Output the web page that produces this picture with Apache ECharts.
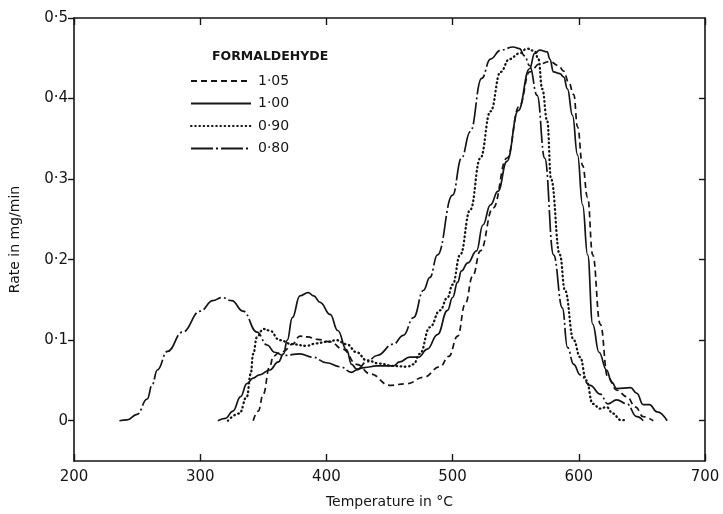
<!DOCTYPE html>
<html>
<head>
<meta charset="utf-8">
<script src="https://cdn.jsdelivr.net/npm/echarts@6/dist/echarts.min.js"></script>
<style>html,body{margin:0;padding:0;background:#fff}#c{width:723px;height:514px}</style>
</head>
<body>
<div id="c"></div>
<script>
// ---- data (temperature in °C, rate in mg/min) ----
var seriesNames = ['1·05', '1·00', '0·90', '0·80'];
var xTicks = [200, 300, 400, 500, 600, 700];
var yTicks = [0, 0.1, 0.2, 0.3, 0.4, 0.5];
var yTickLabels = ['0', '0·1', '0·2', '0·3', '0·4', '0·5'];

var t105 = [342, 346, 350, 355, 358, 362, 366, 373, 379, 385, 393, 403, 413, 424, 435, 450, 464, 477, 490, 497, 504, 510, 516, 522, 532, 543, 553, 561, 569, 577, 584, 588, 592, 596, 599, 603, 607, 611, 617, 623, 630, 638, 645, 651, 659];
var r105 = [0, 0.012, 0.033, 0.067, 0.08, 0.084, 0.086, 0.095, 0.105, 0.104, 0.101, 0.098, 0.089, 0.07, 0.058, 0.044, 0.046, 0.054, 0.067, 0.08, 0.105, 0.145, 0.18, 0.211, 0.264, 0.326, 0.391, 0.433, 0.443, 0.446, 0.441, 0.434, 0.42, 0.405, 0.365, 0.317, 0.277, 0.206, 0.12, 0.054, 0.038, 0.03, 0.017, 0.005, 0];

var t100 = [314, 320, 326, 332, 337, 342, 347, 355, 362, 366, 369, 373, 379, 385.5, 390, 395, 403, 409, 416, 420, 424, 430, 440, 453, 458, 466, 473, 480, 488, 496, 500, 504, 507, 512, 519, 524, 530, 536, 543, 552, 561, 565, 569, 575, 577, 580, 585, 588, 591, 595, 599, 603, 607, 611, 616, 622, 626, 630, 641, 646, 651, 656, 662, 670];
var r100 = [0, 0.003, 0.012, 0.03, 0.046, 0.053, 0.057, 0.063, 0.073, 0.083, 0.1, 0.128, 0.155, 0.159, 0.155, 0.147, 0.132, 0.112, 0.088, 0.07, 0.064, 0.066, 0.068, 0.068, 0.073, 0.079, 0.079, 0.089, 0.107, 0.137, 0.153, 0.172, 0.186, 0.196, 0.211, 0.243, 0.268, 0.285, 0.322, 0.385, 0.437, 0.456, 0.46, 0.458, 0.449, 0.433, 0.431, 0.427, 0.412, 0.379, 0.33, 0.268, 0.206, 0.12, 0.085, 0.063, 0.048, 0.04, 0.041, 0.034, 0.02, 0.02, 0.011, 0];

var t090 = [322, 331, 337, 340, 342, 345, 350, 355, 363, 373, 384, 392, 400, 408, 416, 424, 432, 442, 453, 464, 469, 474, 482, 490, 496, 500, 506, 514, 522, 530, 538, 545, 553, 559, 565, 568, 571, 575, 578, 585, 589, 596, 601, 606, 611, 617, 622, 627, 633, 638];
var r090 = [0, 0.009, 0.03, 0.058, 0.083, 0.104, 0.114, 0.112, 0.1, 0.095, 0.093, 0.096, 0.098, 0.1, 0.095, 0.085, 0.075, 0.071, 0.068, 0.067, 0.07, 0.083, 0.116, 0.137, 0.153, 0.169, 0.206, 0.262, 0.326, 0.384, 0.433, 0.449, 0.456, 0.462, 0.459, 0.449, 0.412, 0.372, 0.3, 0.206, 0.162, 0.1, 0.079, 0.05, 0.021, 0.015, 0.017, 0.009, 0.001, 0];

var t080 = [236, 242, 250, 258, 262, 266, 274, 286, 300, 310, 317, 325, 334, 345, 353, 359, 366, 379, 389, 400, 411, 420, 424, 432, 440, 453, 461, 469, 477, 482, 488, 500, 507, 514, 523, 530, 538, 548, 553, 557, 561, 567, 573, 580, 587, 591, 596, 601, 609, 617, 623, 630, 638, 646, 651];
var r080 = [0, 0.001, 0.008, 0.027, 0.045, 0.063, 0.086, 0.11, 0.136, 0.149, 0.153, 0.149, 0.136, 0.11, 0.094, 0.085, 0.081, 0.083, 0.079, 0.072, 0.067, 0.06, 0.063, 0.073, 0.081, 0.095, 0.106, 0.128, 0.162, 0.178, 0.206, 0.28, 0.326, 0.359, 0.425, 0.449, 0.46, 0.464, 0.462, 0.453, 0.441, 0.404, 0.326, 0.206, 0.14, 0.091, 0.07, 0.057, 0.044, 0.033, 0.021, 0.026, 0.021, 0.005, 0];

function pairs(t, r) { return t.map(function (v, i) { return [v, r[i]]; }); }

var FONT = 'DejaVu Sans';
var INK = '#151515';
var dashStyles = [[6, 4], 'solid', [0.6, 3.6], [22, 3, 2, 3]];
var widths = [1.7, 1.7, 2.3, 1.7];
var allData = [pairs(t105, r105), pairs(t100, r100), pairs(t090, r090), pairs(t080, r080)];

var chart = echarts.init(document.getElementById('c'), null, { renderer: 'canvas' });
chart.setOption({
  backgroundColor: '#fff',
  animation: false,
  title: {
    text: 'FORMALDEHYDE', left: 207, top: 45,
    textStyle: { fontFamily: FONT, fontSize: 12.5, fontWeight: 'bold', color: INK }
  },
  legend: {
    data: seriesNames, orient: 'vertical', left: 185, top: 69,
    itemWidth: 60, itemHeight: 10, itemGap: 8.5,
    itemStyle: { opacity: 0 },
    textStyle: { fontFamily: FONT, fontSize: 14, color: INK, padding: [0, 0, 0, 2] }
  },
  grid: { left: 74, right: 18, top: 18, bottom: 50, show: false },
  xAxis: [{
    type: 'value', min: 200, max: 700, interval: 100,
    name: 'Temperature in °C', nameLocation: 'middle', nameGap: 34,
    nameTextStyle: { fontFamily: FONT, fontSize: 14, color: INK },
    axisLine: { onZero: false, lineStyle: { color: INK, width: 1.6 } },
    axisTick: { inside: true, length: 7, lineStyle: { color: INK, width: 1.4 } },
    axisLabel: { fontFamily: FONT, fontSize: 15, color: INK, margin: 9 },
    splitLine: { show: false }
  }, {
    type: 'value', min: 200, max: 700, interval: 100, position: 'top',
    axisLine: { onZero: false, lineStyle: { color: INK, width: 1.6 } },
    axisTick: { inside: true, length: 7, lineStyle: { color: INK, width: 1.4 } },
    axisLabel: { show: false }, splitLine: { show: false }
  }],
  yAxis: [{
    type: 'value', min: -0.05, max: 0.5,
    name: 'Rate in mg/min', nameLocation: 'middle', nameGap: 52,
    nameTextStyle: { fontFamily: FONT, fontSize: 14, color: INK },
    axisLine: { onZero: false, lineStyle: { color: INK, width: 1.6 } },
    axisTick: { length: 6, customValues: yTicks, lineStyle: { color: INK, width: 1.4 } },
    axisLabel: {
      fontFamily: FONT, fontSize: 15, color: INK, margin: 6, customValues: yTicks,
      formatter: function (v) {
        for (var i = 0; i < yTicks.length; i++) if (Math.abs(v - yTicks[i]) < 1e-6) return yTickLabels[i];
        return '';
      }
    },
    splitLine: { show: false }
  }, {
    type: 'value', min: -0.05, max: 0.5, position: 'right',
    axisLine: { onZero: false, lineStyle: { color: INK, width: 1.6 } },
    axisTick: { inside: true, length: 6, customValues: [0, 0.1, 0.2, 0.3, 0.4], lineStyle: { color: INK, width: 1.4 } },
    axisLabel: { show: false }, splitLine: { show: false }
  }],
  series: seriesNames.map(function (name, i) {
    return {
      name: name, type: 'line', data: allData[i],
      xAxisIndex: 0, yAxisIndex: 0,
      showSymbol: false, symbol: 'none',
      smooth: 0.45, smoothMonotone: 'x',
      lineStyle: { color: INK, width: widths[i], type: dashStyles[i], cap: i === 2 ? 'round' : 'butt' },
      itemStyle: { color: INK }
    };
  })
});
</script>
</body>
</html>
